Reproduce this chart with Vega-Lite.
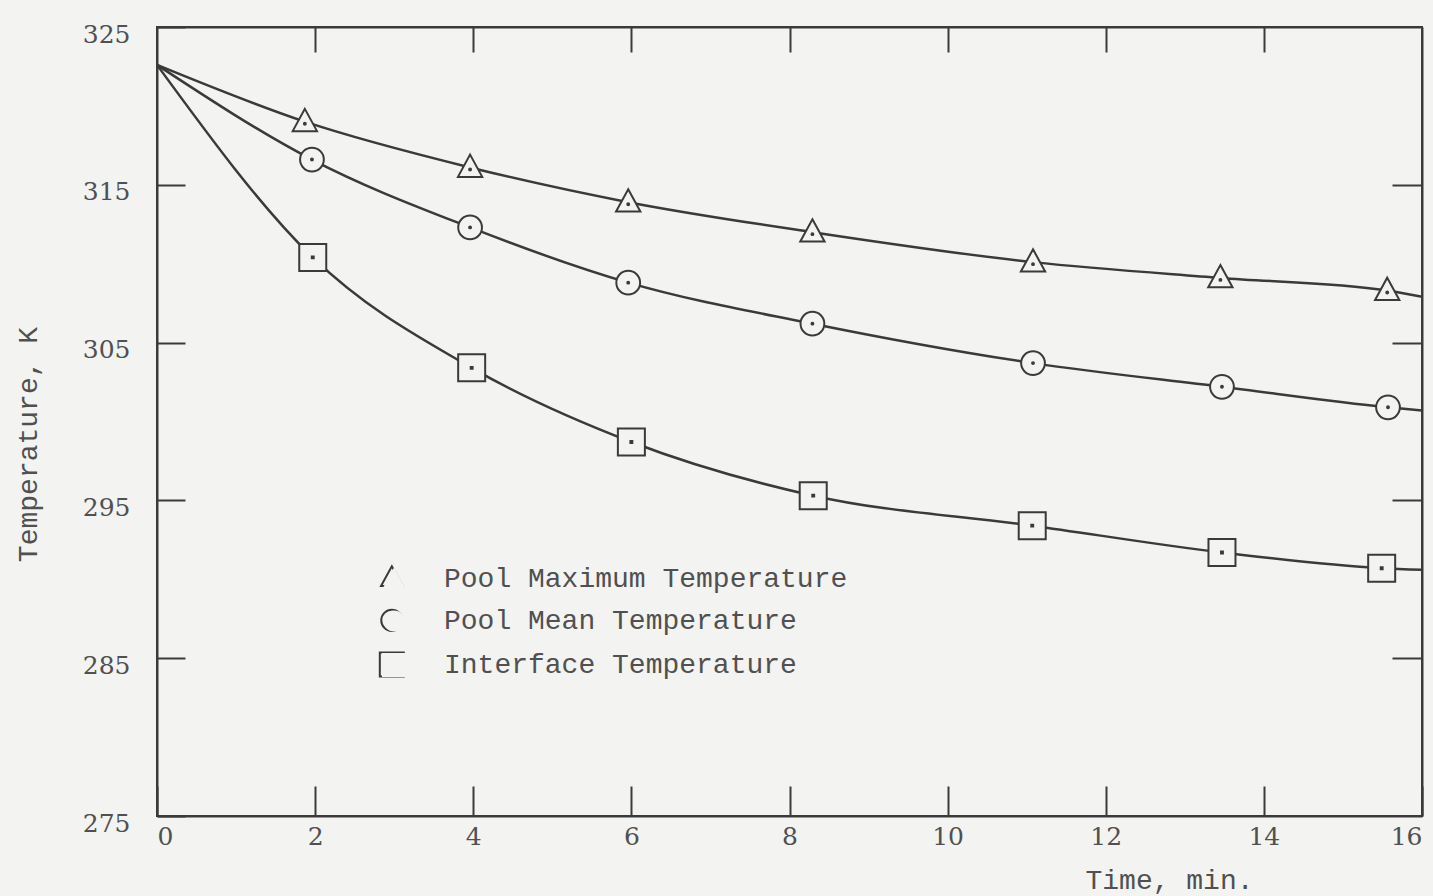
{
  "$schema": "https://vega.github.io/schema/vega-lite/v6.json",
  "width": 1265,
  "height": 789,
  "autosize": {"type": "none"},
  "padding": {"left": 157, "top": 27, "right": 11, "bottom": 80},
  "background": "#f3f3f1",
  "config": {
    "view": {"stroke": "#3a3a3a", "strokeWidth": 2},
    "axis": {
      "domainColor": "#3a3a3a", "domainWidth": 2,
      "tickColor": "#3a3a3a", "tickWidth": 2,
      "labelFont": "DejaVu Serif", "labelFontSize": 25, "labelColor": "#505050",
      "titleFont": "Liberation Mono", "titleFontSize": 28, "titleFontWeight": "normal", "titleColor": "#505050",
      "grid": false
    }
  },
  "datasets": {
    "curves": [
      {"series": "Pool Maximum Temperature", "t": 0, "temp": 322.6},
      {"series": "Pool Maximum Temperature", "t": 1.87, "temp": 319.0},
      {"series": "Pool Maximum Temperature", "t": 3.96, "temp": 316.1},
      {"series": "Pool Maximum Temperature", "t": 5.96, "temp": 313.9},
      {"series": "Pool Maximum Temperature", "t": 8.29, "temp": 312.0},
      {"series": "Pool Maximum Temperature", "t": 11.08, "temp": 310.1},
      {"series": "Pool Maximum Temperature", "t": 13.45, "temp": 309.1},
      {"series": "Pool Maximum Temperature", "t": 15.56, "temp": 308.3},
      {"series": "Pool Maximum Temperature", "t": 16, "temp": 307.9},
      {"series": "Pool Mean Temperature", "t": 0, "temp": 322.6},
      {"series": "Pool Mean Temperature", "t": 1.96, "temp": 316.6},
      {"series": "Pool Mean Temperature", "t": 3.96, "temp": 312.3},
      {"series": "Pool Mean Temperature", "t": 5.96, "temp": 308.8},
      {"series": "Pool Mean Temperature", "t": 8.29, "temp": 306.2},
      {"series": "Pool Mean Temperature", "t": 11.08, "temp": 303.7},
      {"series": "Pool Mean Temperature", "t": 13.47, "temp": 302.2},
      {"series": "Pool Mean Temperature", "t": 15.57, "temp": 300.9},
      {"series": "Pool Mean Temperature", "t": 16, "temp": 300.7},
      {"series": "Interface Temperature", "t": 0, "temp": 322.6},
      {"series": "Interface Temperature", "t": 1.97, "temp": 310.4},
      {"series": "Interface Temperature", "t": 3.98, "temp": 303.4},
      {"series": "Interface Temperature", "t": 6.0, "temp": 298.7},
      {"series": "Interface Temperature", "t": 8.3, "temp": 295.3},
      {"series": "Interface Temperature", "t": 11.07, "temp": 293.4},
      {"series": "Interface Temperature", "t": 13.47, "temp": 291.7},
      {"series": "Interface Temperature", "t": 15.49, "temp": 290.7},
      {"series": "Interface Temperature", "t": 16, "temp": 290.6}
    ],
    "markers": [
      {"series": "Pool Maximum Temperature", "t": 1.87, "temp": 319.0},
      {"series": "Pool Maximum Temperature", "t": 3.96, "temp": 316.1},
      {"series": "Pool Maximum Temperature", "t": 5.96, "temp": 313.9},
      {"series": "Pool Maximum Temperature", "t": 8.29, "temp": 312.0},
      {"series": "Pool Maximum Temperature", "t": 11.08, "temp": 310.1},
      {"series": "Pool Maximum Temperature", "t": 13.45, "temp": 309.1},
      {"series": "Pool Maximum Temperature", "t": 15.56, "temp": 308.3},
      {"series": "Pool Mean Temperature", "t": 1.96, "temp": 316.6},
      {"series": "Pool Mean Temperature", "t": 3.96, "temp": 312.3},
      {"series": "Pool Mean Temperature", "t": 5.96, "temp": 308.8},
      {"series": "Pool Mean Temperature", "t": 8.29, "temp": 306.2},
      {"series": "Pool Mean Temperature", "t": 11.08, "temp": 303.7},
      {"series": "Pool Mean Temperature", "t": 13.47, "temp": 302.2},
      {"series": "Pool Mean Temperature", "t": 15.57, "temp": 300.9},
      {"series": "Interface Temperature", "t": 1.97, "temp": 310.4},
      {"series": "Interface Temperature", "t": 3.98, "temp": 303.4},
      {"series": "Interface Temperature", "t": 6.0, "temp": 298.7},
      {"series": "Interface Temperature", "t": 8.3, "temp": 295.3},
      {"series": "Interface Temperature", "t": 11.07, "temp": 293.4},
      {"series": "Interface Temperature", "t": 13.47, "temp": 291.7},
      {"series": "Interface Temperature", "t": 15.49, "temp": 290.7}
    ]
  },
  "layer": [
    {
      "data": {"name": "curves"},
      "mark": {"type": "line", "interpolate": "monotone", "stroke": "#3a3a3a", "strokeWidth": 2.5},
      "encoding": {
        "x": {
          "field": "t", "type": "quantitative",
          "scale": {"domain": [0, 16], "nice": false, "zero": false},
          "axis": {
            "orient": "bottom", "values": [0, 2, 4, 6, 8, 10, 12, 14, 16],
            "tickSize": -30, "labelPadding": 38, "labelFlush": true,
            "title": "Time, min.", "titleAnchor": null, "titleX": 1096, "titleY": 64,
            "titleAlign": "right", "titleBaseline": "middle"
          }
        },
        "y": {
          "field": "temp", "type": "quantitative",
          "scale": {"domain": [275, 325], "nice": false, "zero": false},
          "axis": {
            "orient": "left", "values": [275, 285, 295, 305, 315, 325],
            "tickSize": -28, "labelPadding": 55, "labelOffset": 7, "labelBaseline": "middle",
            "title": "Temperature, K", "titleX": -129, "titleY": 417,
            "titleAngle": -90, "titleAlign": "center", "titleBaseline": "middle"
          }
        },
        "detail": {"field": "series"}
      }
    },
    {
      "data": {"name": "markers"},
      "mark": {"type": "point", "filled": false, "fill": "#f3f3f1", "stroke": "#3a3a3a", "strokeWidth": 2, "size": 729, "opacity": 1},
      "encoding": {
        "x": {
          "field": "t", "type": "quantitative",
          "axis": {"orient": "top", "values": [2, 4, 6, 8, 10, 12, 14], "tickSize": -25, "labels": false, "title": null}
        },
        "y": {
          "field": "temp", "type": "quantitative",
          "axis": {"orient": "right", "values": [285, 295, 305, 315], "tickSize": -30, "labels": false, "title": null}
        },
        "shape": {
          "field": "series", "type": "nominal",
          "scale": {
            "domain": ["Pool Maximum Temperature", "Pool Mean Temperature", "Interface Temperature"],
            "range": [
              "M0,-0.95L0.9,0.7L-0.9,0.7Z M0.07,0.15A0.07,0.07 0 1,1 -0.07,0.15A0.07,0.07 0 1,1 0.07,0.15Z",
              "M0.88,0A0.88,0.88 0 1,1 -0.88,0A0.88,0.88 0 1,1 0.88,0Z M0.07,0A0.07,0.07 0 1,1 -0.07,0A0.07,0.07 0 1,1 0.07,0Z",
              "M-1,-1H1V1H-1Z M-0.07,-0.07H0.07V0.07H-0.07Z"
            ]
          },
          "legend": {
            "title": null, "orient": "none", "legendX": 223, "legendY": 538,
            "padding": 0, "symbolSize": 576, "symbolStrokeWidth": 2,
            "symbolStrokeColor": "#3a3a3a",
            "labelFont": "Liberation Mono", "labelFontSize": 28, "labelColor": "#505050",
            "labelOffset": 36, "rowPadding": 13, "labelLimit": 600
          }
        }
      }
    },
    {
      "data": {"values": [{}]},
      "mark": {"type": "point", "filled": false, "fill": "#f3f3f1", "stroke": "#3a3a3a", "strokeWidth": 2, "size": 576, "opacity": 1,
        "shape": "M0,-0.95L0.9,0.7L-0.9,0.7Z M0.07,0.15A0.07,0.07 0 1,1 -0.07,0.15A0.07,0.07 0 1,1 0.07,0.15Z"},
      "encoding": {
        "x": {"datum": 2.97, "type": "quantitative", "axis": null},
        "y": {"datum": 290.1, "type": "quantitative", "axis": null}
      }
    },
    {
      "data": {"values": [{}]},
      "mark": {"type": "point", "filled": false, "fill": "#f3f3f1", "stroke": "#3a3a3a", "strokeWidth": 2, "size": 576, "opacity": 1,
        "shape": "M0.88,0A0.88,0.88 0 1,1 -0.88,0A0.88,0.88 0 1,1 0.88,0Z M0.07,0A0.07,0.07 0 1,1 -0.07,0A0.07,0.07 0 1,1 0.07,0Z"},
      "encoding": {
        "x": {"datum": 2.97, "type": "quantitative", "axis": null},
        "y": {"datum": 287.4, "type": "quantitative", "axis": null}
      }
    },
    {
      "data": {"values": [{}]},
      "mark": {"type": "point", "filled": false, "fill": "#f3f3f1", "stroke": "#3a3a3a", "strokeWidth": 2, "size": 576, "opacity": 1,
        "shape": "M-1,-1H1V1H-1Z M-0.07,-0.07H0.07V0.07H-0.07Z"},
      "encoding": {
        "x": {"datum": 2.97, "type": "quantitative", "axis": null},
        "y": {"datum": 284.6, "type": "quantitative", "axis": null}
      }
    }
  ],
  "resolve": {"axis": {"x": "independent", "y": "independent"}}
}
